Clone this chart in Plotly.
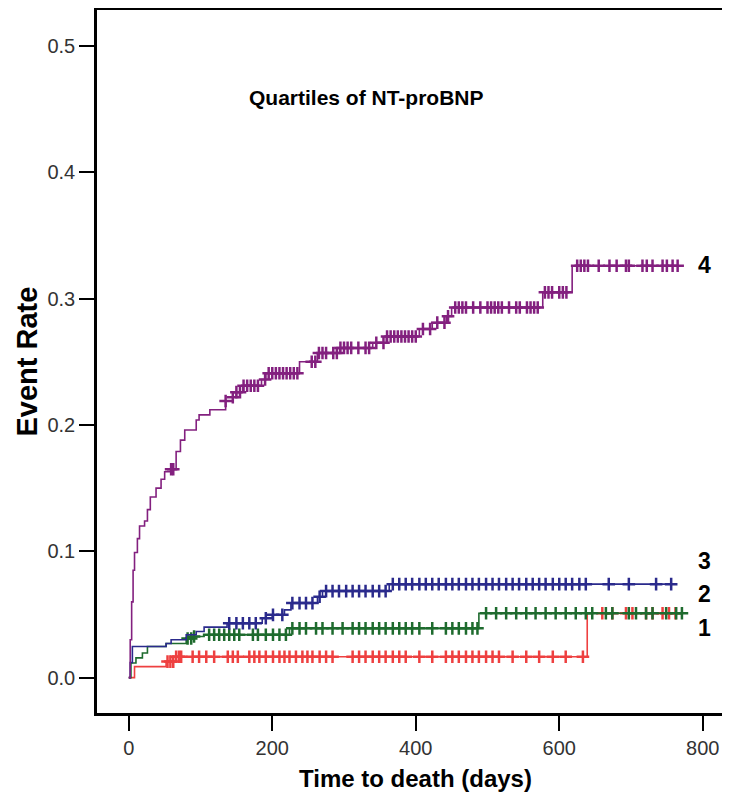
import numpy as np
import plotly.graph_objects as go

# ---- data (Kaplan-Meier style cumulative event rate) ----
# Quartile 1 (red)
q1_times = [0, 8, 52, 66, 639]
q1_rates = [0.0, 0.0087, 0.0127, 0.0165, 0.051]
q1_end = 762
q1_censor = [54, 58, 62, 66, 70, 73, 89, 98, 108, 119, 138, 145, 152, 168, 175, 182, 191, 201,
             210, 217, 224, 233, 242, 249, 256, 266, 275, 284, 312, 321, 330, 340, 349, 358,
             368, 377, 386, 405, 423, 442, 451, 460, 470, 479, 488, 498, 507, 516, 535, 554,
             572, 591, 609, 633, 660, 674, 693, 702, 721, 730, 744, 753, 762]

# Quartile 2 (green)
q2_times = [0, 3, 10, 19, 26, 52, 80, 90, 105, 224, 488]
q2_rates = [0.0, 0.0116, 0.0156, 0.0195, 0.0246, 0.027, 0.031, 0.0325, 0.034, 0.039, 0.051]
q2_end = 771
q2_censor = [82, 87, 91, 112, 119, 126, 133, 140, 147, 154, 173, 180, 191, 201, 210, 219, 228,
             238, 247, 261, 270, 284, 298, 312, 321, 330, 340, 349, 358, 368, 377, 386, 395,
             405, 423, 442, 451, 460, 470, 479, 486, 498, 512, 526, 540, 554, 567, 581, 595,
             609, 623, 637, 646, 665, 674, 697, 707, 721, 730, 749, 763, 771]

# Quartile 3 (blue)
q3_times = [0, 2, 5, 52, 59, 80, 94, 105, 137, 186, 200, 217, 226, 263, 270, 363]
q3_rates = [0.0, 0.012, 0.0246, 0.027, 0.030, 0.034, 0.0365, 0.040, 0.043, 0.047, 0.0497,
            0.0536, 0.059, 0.064, 0.0685, 0.074]
q3_end = 757
q3_censor = [140, 150, 159, 168, 177, 191, 201, 214, 228, 238, 247, 256, 266, 275, 284, 293,
             303, 312, 321, 330, 340, 349, 358, 368, 377, 386, 395, 405, 414, 423, 432, 442,
             451, 460, 470, 479, 488, 498, 507, 516, 526, 535, 544, 554, 563, 572, 581, 591,
             600, 609, 618, 628, 637, 669, 697, 735, 756]

# Quartile 4 (purple)
q4_times = [0, 2, 4, 6, 8, 12, 15, 22, 26, 30, 38, 45, 50, 59, 66, 72, 78, 94, 98, 113, 135,
            145, 150, 159, 185, 191, 238, 263, 294, 340, 359, 405, 423, 443, 450, 577, 618]
q4_rates = [0.0, 0.03, 0.06, 0.085, 0.099, 0.11, 0.12, 0.124, 0.133, 0.143, 0.15, 0.157,
            0.163, 0.165, 0.179, 0.188, 0.196, 0.204, 0.208, 0.212, 0.219, 0.222, 0.226,
            0.231, 0.236, 0.241, 0.250, 0.257, 0.261, 0.265, 0.270, 0.276, 0.281, 0.286,
            0.293, 0.305, 0.326]
q4_end = 769
q4_censor = [59, 62, 135, 145, 150, 155, 160, 165, 170, 175, 180, 190, 195, 200, 205, 210, 215,
             220, 225, 230, 235, 255, 260, 265, 270, 275, 285, 290, 295, 300, 305, 310, 320,
             330, 335, 345, 355, 360, 365, 370, 375, 380, 385, 390, 395, 400, 410, 420, 430,
             440, 445, 455, 460, 465, 470, 480, 490, 500, 505, 510, 515, 520, 530, 540, 545,
             555, 560, 565, 570, 580, 585, 590, 600, 605, 610, 625, 630, 635, 640, 655, 670,
             680, 693, 697, 716, 722, 730, 744, 750, 758, 765]

group_labels = ["1", "2", "3", "4"]
label_y = [0.039, 0.0666, 0.092, 0.327]
label_x = 802

x_ticks = [0, 200, 400, 600, 800]
y_ticks = [0.0, 0.1, 0.2, 0.3, 0.4, 0.5]
y_tick_text = ["0.0", "0.1", "0.2", "0.3", "0.4", "0.5"]

groups = [
    (q1_times, q1_rates, q1_end, q1_censor, "#EE4040"),
    (q2_times, q2_rates, q2_end, q2_censor, "#1E6B2E"),
    (q3_times, q3_rates, q3_end, q3_censor, "#2A2A8C"),
    (q4_times, q4_rates, q4_end, q4_censor, "#83207F"),
]

FONT = "Liberation Sans, Arial"

fig = go.Figure()
for times, rates, end, censor, color in groups:
    t = list(times) + [end]
    r = list(rates) + [rates[-1]]
    fig.add_trace(go.Scatter(x=t, y=r, mode="lines", line=dict(color=color, width=1.6, shape="hv"),
                             hoverinfo="skip", showlegend=False))
    ta = np.array(times)
    ra = np.array(rates)
    c = np.array(censor, dtype=float)
    idx = np.searchsorted(ta, c, side="right") - 1
    cy = ra[idx]
    fig.add_trace(go.Scatter(x=c, y=cy, mode="markers",
                             marker=dict(symbol="cross-thin", size=9,
                                         line=dict(color=color, width=2.5)),
                             hoverinfo="skip", showlegend=False))

for lab, ly in zip(group_labels, label_y):
    fig.add_annotation(x=label_x, y=ly, text=lab, showarrow=False, xanchor="center",
                       yanchor="middle",
                       font=dict(family=FONT, size=23, color="black", weight="bold"))

fig.add_annotation(x=332, y=0.459, text="Quartiles of NT-proBNP", showarrow=False,
                   xanchor="center", yanchor="middle",
                   font=dict(family=FONT, size=21, color="black", weight="bold"))

fig.add_annotation(xref="paper", yref="paper", x=-0.1106, y=0.5, text="Event Rate",
                   textangle=-90, showarrow=False, xanchor="center", yanchor="middle",
                   font=dict(family=FONT, size=29, color="black", weight="bold"))
fig.add_annotation(xref="paper", yref="paper", x=0.5024, y=-0.0925,
                   text="Time to death (days)", showarrow=False, xanchor="center",
                   yanchor="middle",
                   font=dict(family=FONT, size=24, color="black", weight="bold"))

fig.update_xaxes(range=[-44.3, 838], tickvals=x_ticks, showline=True, linecolor="black",
                 linewidth=2.5, mirror=True, ticks="outside", ticklen=15, tickwidth=2,
                 tickcolor="black", showgrid=False, zeroline=False, automargin=False,
                 tickfont=dict(family=FONT, size=20, color="#333333"))
fig.update_yaxes(range=[-0.028, 0.5285], tickvals=y_ticks, ticktext=y_tick_text, showline=True,
                 linecolor="black", linewidth=2.5, ticks="outside", ticklen=15, tickwidth=2,
                 tickcolor="black", showgrid=False, zeroline=False, automargin=False,
                 tickfont=dict(family=FONT, size=20, color="#333333"))

# the page body adds an 8px offset, so the figure is sized to keep the frame where it belongs
fig.update_layout(width=722, height=795, margin=dict(l=89, r=0, t=2, b=90),
                  plot_bgcolor="white", paper_bgcolor="white")

fig.write_html("out.html")
